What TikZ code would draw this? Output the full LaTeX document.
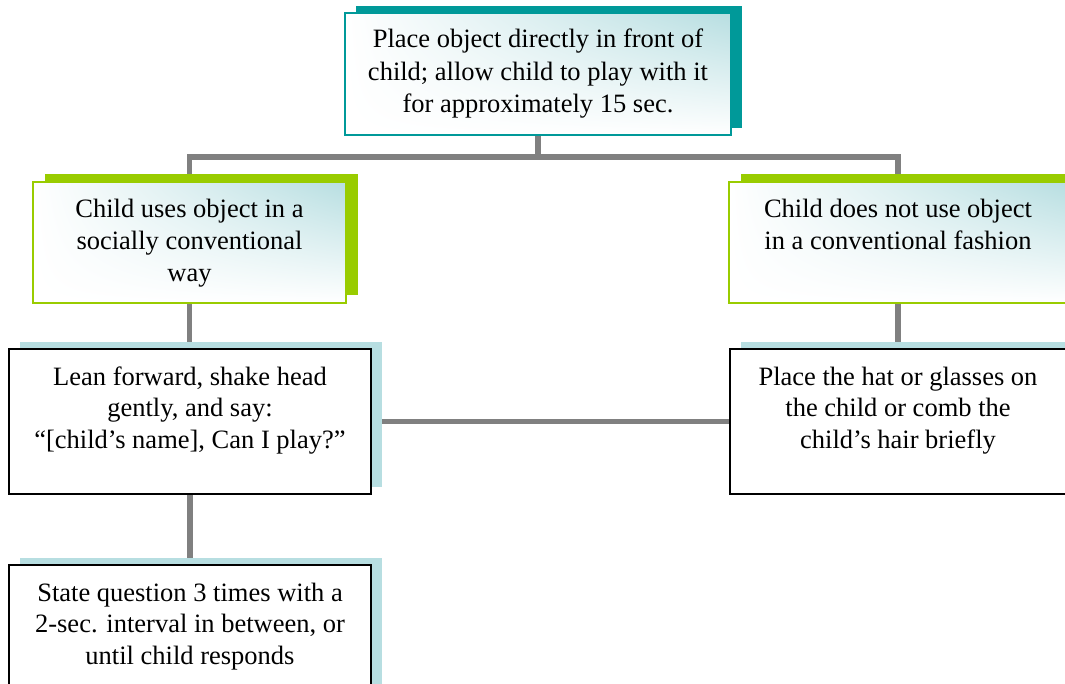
\documentclass[tikz,border=0pt]{standalone}
\usepackage{fontspec}
\setmainfont{Liberation Serif}
\usetikzlibrary{shadows,shadings}
\definecolor{tealc}{HTML}{009999}
\definecolor{greenc}{HTML}{99CC00}
\definecolor{paleblue}{HTML}{B7DEE1}
\definecolor{linegrey}{HTML}{808080}
\pgfdeclarelayer{bg}
\pgfsetlayers{bg,main}
% width, height, first-baseline offset, text
\newcommand\bxtoptext[4]{\parbox[c][#2][t]{#1}{\centering\rule{0pt}{#3}#4}}
\newcommand\bxmidtext[3]{\parbox[c][#2][c]{#1}{\centering #3}}
\begin{document}
\begin{tikzpicture}[x=1pt,y=-1pt,
  every node/.style={font=\fontsize{26.5}{31.5}\selectfont},
  bx/.style={rectangle, inner sep=0pt, outer sep=0pt},
  gradfill/.style={shade, upper right=paleblue, upper left=white, lower left=white, lower right=white},
  topbox/.style={bx, gradfill, draw=tealc, line width=2pt,
    font=\fontsize{26.5}{32.5}\selectfont,
    general shadow={fill=tealc, shadow xshift=11pt, shadow yshift=7pt}},
  greenbox/.style={bx, gradfill, draw=greenc, line width=2.5pt,
    font=\fontsize{26.5}{32}\selectfont,
    general shadow={fill=greenc, shadow xshift=12pt, shadow yshift=8pt}},
  whitebox/.style={bx, fill=white, draw=black, line width=2pt,
    general shadow={fill=paleblue, shadow xshift=11pt, shadow yshift=7pt}},
  conn/.style={draw=linegrey, line width=5.5pt}]
\useasboundingbox (0,0) rectangle (1065,683);
\clip (0,0) rectangle (1065,683);

\node[topbox] (t) at (538,74)
  {\bxmidtext{386pt}{122pt}{Place object directly in front of\\child; allow child to play with it\\for approximately 15 sec.}};
\node[greenbox] (g1) at (189.5,242.5)
  {\bxtoptext{313pt}{121pt}{35pt}{Child uses object in a\\socially conventional\\way}};
\node[greenbox] (g2) at (898,242.5)
  {\bxtoptext{338pt}{121pt}{35pt}{Child does not use object\\in a conventional fashion}};
\node[whitebox] (w1) at (190,421.5)
  {\bxtoptext{362pt}{145pt}{36pt}{Lean forward, shake head\\gently, and say:\\“[child’s name], Can I play?”}};
\node[whitebox] (w2) at (898,421.5)
  {\bxtoptext{336pt}{145pt}{36pt}{Place the hat or glasses on\\the child or comb the\\child’s hair briefly}};
\node[whitebox] (w3) at (190,637.5)
  {\bxtoptext{362pt}{145pt}{36pt}{State question 3 times with a\\2-sec. interval in between, or\\until child responds}};

\begin{pgfonlayer}{bg}
\draw[conn] (t.south) -- ++(0,22) -| (g1.north);
\draw[conn] (t.south) -- ++(0,22) -| (g2.north);
\draw[conn] (g1.south) -- (g1.south |- w1.north);
\draw[conn] (g2.south) -- (g2.south |- w2.north);
\draw[conn] (w1.east) -- (w2.west);
\draw[conn] (w1.south) -- (w1.south |- w3.north);
\end{pgfonlayer}
\end{tikzpicture}
\end{document}
